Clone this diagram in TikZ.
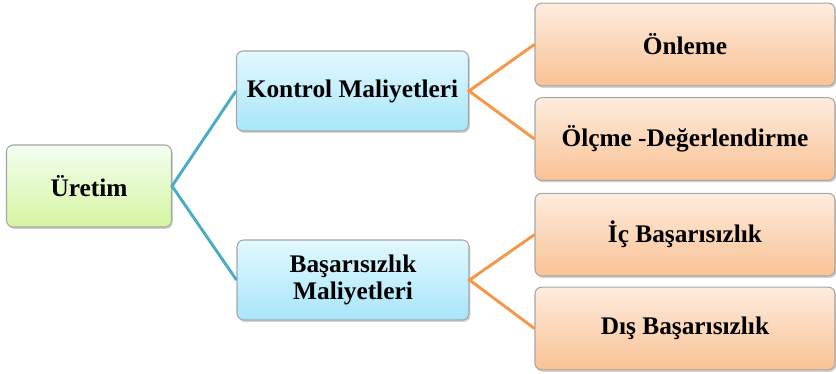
\documentclass[tikz,border=0pt]{standalone}
\usepackage{fontspec}
\setmainfont{Liberation Serif}
\usepackage{tikz}
\usetikzlibrary{positioning,shadows}

\definecolor{blueline}{HTML}{4BACC6}
\definecolor{orangeline}{HTML}{F79646}

\begin{document}
\begin{tikzpicture}[on grid,
  box/.style={rectangle,rounded corners=5pt,draw=black!35,line width=0.8pt,
    align=center,font=\fontsize{19}{20}\selectfont\bfseries,
    drop shadow={shadow xshift=1pt,shadow yshift=-1.5pt,opacity=0.35}},
  root node/.style={box,minimum width=123.75pt,minimum height=61.5pt,
    top color=green!5!white,bottom color={rgb,255:red,214;green,245;blue,160}},
  cost node/.style={box,minimum width=174pt,minimum height=60pt,
    top color={rgb,255:red,226;green,248;blue,255},bottom color={rgb,255:red,168;green,230;blue,250}},
  sub node/.style={box,minimum width=225pt,minimum height=62pt,
    top color={rgb,255:red,254;green,236;blue,222},bottom color={rgb,255:red,249;green,194;blue,148}},
  blue link/.style={blueline,line width=2.2pt},
  orange link/.style={orangeline,line width=2.2pt}]
  \useasboundingbox (-66.75pt,-141pt) rectangle (560.25pt,139.5pt);

  \node[root node] (uretim) {Üretim};
  \node[cost node] (kontrol) [above right=71.25pt and 197.6pt of uretim] {Kontrol Maliyetleri};
  \node[cost node] (basari) [below right=70.5pt and 198pt of uretim] {Başarısızlık\\Maliyetleri};

  \node[sub node] (onleme) [above right=34.9pt and 249.4pt of kontrol] {Önleme};
  \node[sub node] (olcme) [below right=36pt and 249.4pt of kontrol] {Ölçme -Değerlendirme};
  \node[sub node] (ic) [above right=34pt and 249pt of basari] {İç Başarısızlık};
  \node[sub node] (dis) [below right=36.4pt and 249pt of basari] {Dış Başarısızlık};

  \draw[blue link] (kontrol.west) -- (uretim.east) -- (basari.west);
  \draw[orange link] (onleme.west) -- (kontrol.east) -- (olcme.west);
  \draw[orange link] (ic.west) -- (basari.east) -- (dis.west);

\end{tikzpicture}
\end{document}
